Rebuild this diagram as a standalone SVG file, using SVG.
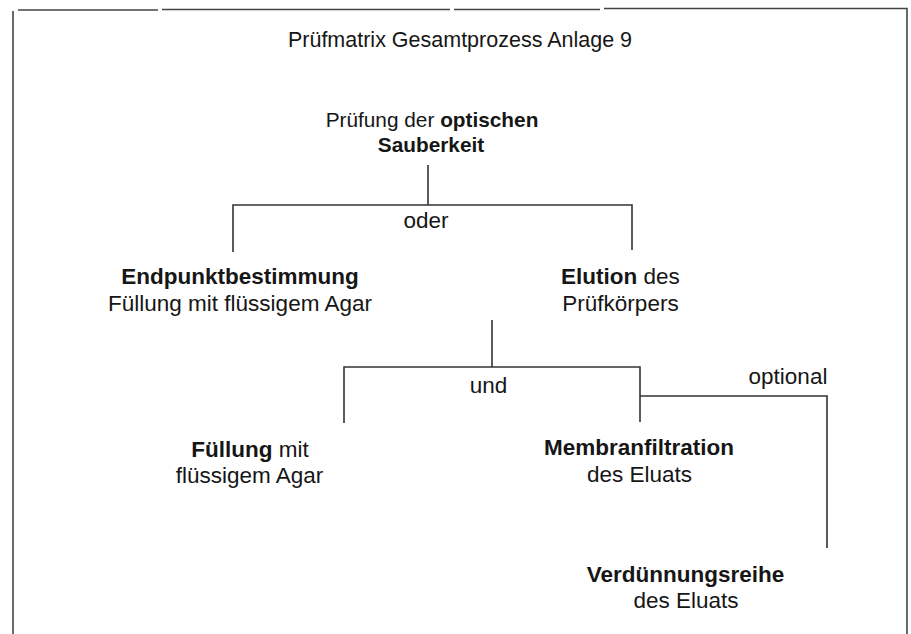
<svg xmlns="http://www.w3.org/2000/svg" width="911" height="634" viewBox="0 0 911 634">
<style>
text{font-family:"Liberation Sans",Arial,Helvetica,sans-serif;font-size:22.5px;fill:#161616;text-anchor:middle}
.b{font-weight:bold}
.title{font-size:21.5px}
.top{font-size:20.8px}
.ln{stroke:#333;stroke-width:1.6;fill:none}
.fr{stroke:#444;stroke-width:1.6;fill:none}
</style>
<rect width="911" height="634" fill="#fff"/>
<g id="frame">
<path class="fr" d="M13,634 V11"/>
<path class="fr" d="M18,10 H158"/>
<path class="fr" d="M162,9.5 H450"/>
<path class="fr" d="M454,9.5 H600"/>
<path class="fr" d="M604,8.5 H907 V634"/>
</g>
<g id="title"><text class="title" x="460" y="47">Prüfmatrix Gesamtprozess Anlage 9</text></g>
<g id="connectors">
<path class="ln" d="M428,165 V205"/>
<path class="ln" d="M233,252 V205 H632 V250"/>
<path class="ln" d="M492,320 V367"/>
<path class="ln" d="M344,423 V367 H640 V422"/>
<path class="ln" d="M640,396 H827 V548"/>
<text x="426" y="228">oder</text>
<text x="488.5" y="393">und</text>
<text x="788" y="384">optional</text>
</g>
<g id="n_optisch">
<text class="top" x="432" y="127">Prüfung der <tspan class="b">optischen</tspan></text>
<text class="top b" x="431" y="152">Sauberkeit</text>
</g>
<g id="n_endpunkt">
<text class="b" x="240" y="284">Endpunktbestimmung</text>
<text x="240" y="311">Füllung mit flüssigem Agar</text>
</g>
<g id="n_elution">
<text x="620.5" y="284"><tspan class="b">Elution</tspan> des</text>
<text x="620.5" y="311">Prüfkörpers</text>
</g>
<g id="n_fuellung">
<text x="250" y="457"><tspan class="b">Füllung</tspan> mit</text>
<text x="249.5" y="483">flüssigem Agar</text>
</g>
<g id="n_membran">
<text class="b" x="639" y="455">Membranfiltration</text>
<text x="639.5" y="482">des Eluats</text>
</g>
<g id="n_verduennung">
<text class="b" x="685.5" y="582">Verdünnungsreihe</text>
<text x="686" y="608">des Eluats</text>
</g>
</svg>
